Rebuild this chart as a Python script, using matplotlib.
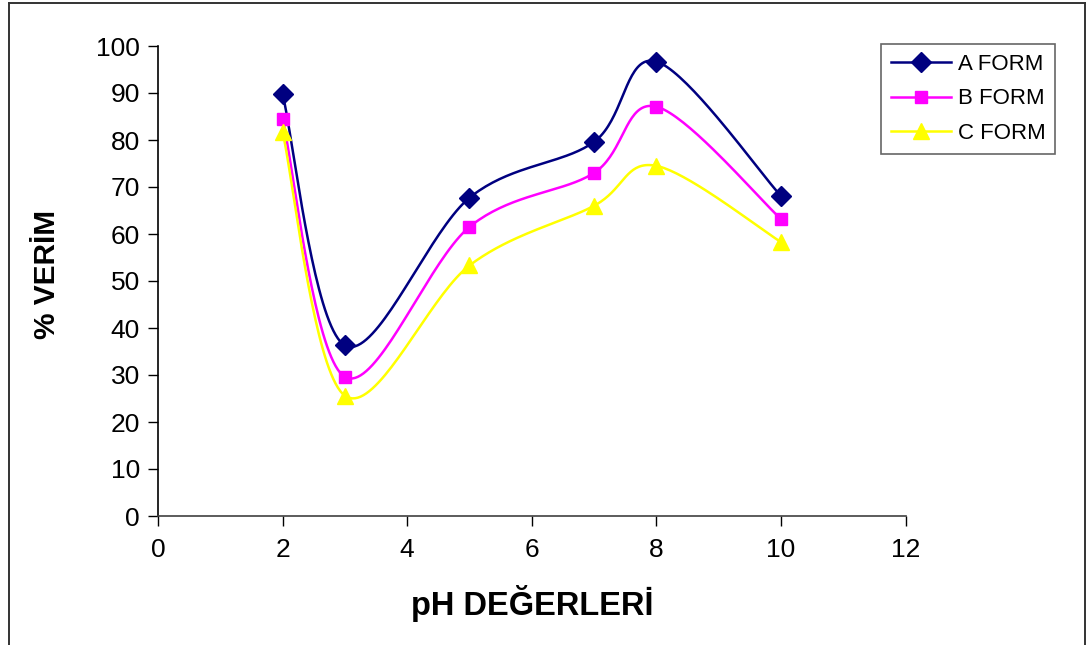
import numpy as np
import matplotlib.pyplot as plt
from matplotlib.lines import Line2D

plt.rcParams['font.family'] = ['Liberation Sans', 'DejaVu Sans']

# pH values and yields for each form
ph = [2, 3, 5, 7, 8, 10]
a_form = [89.8, 36.3, 67.7, 79.6, 96.7, 68.1]
b_form = [84.5, 29.6, 61.5, 73.0, 87.1, 63.2]
c_form = [81.7, 25.6, 53.3, 66.0, 74.5, 58.3]

series = [
    ("A FORM", a_form, "#000080", "D"),
    ("B FORM", b_form, "#FF00FF", "s"),
    ("C FORM", c_form, "#FFFF00", "^"),
]


def smooth_curve(x, y, n=40):
    # spreadsheet style smoothed line: cubic bezier, control points at 1/6 of neighbour span
    pts = np.column_stack([x, y]).astype(float)
    ext = np.vstack([pts[0], pts, pts[-1]])
    t = np.linspace(0, 1, n)[:, None]
    out = []
    for i in range(1, len(ext) - 2):
        p0, p3 = ext[i], ext[i + 1]
        c1 = p0 + (ext[i + 1] - ext[i - 1]) / 6
        c2 = p3 - (ext[i + 2] - ext[i]) / 6
        seg = ((1 - t) ** 3) * p0 + 3 * ((1 - t) ** 2) * t * c1 + 3 * (1 - t) * t ** 2 * c2 + t ** 3 * p3
        out.append(seg if i == 1 else seg[1:])
    out = np.vstack(out)
    return out[:, 0], out[:, 1]


fig = plt.figure(figsize=(10.88, 6.45), dpi=100)
ax = fig.add_axes([158 / 1088, 1 - 516 / 645, 747.5 / 1088, 470 / 645])

handles = []
for name, vals, color, mk in series:
    sx, sy = smooth_curve(ph, vals)
    ax.plot(sx, sy, color=color, lw=1.8, zorder=2)
    ms = 11 if mk == "^" else (10 if mk == "D" else 9)
    ax.plot(ph, vals, linestyle="none", marker=mk, color=color, markersize=ms, zorder=3)
    handles.append(Line2D([0], [0], color=color, lw=1.8, marker=mk, markersize=ms))

ax.set_xlim(0, 12)
ax.set_ylim(0, 100)
ax.set_xticks(range(0, 13, 2))
ax.set_yticks(range(0, 101, 10))
ax.tick_params(direction="out", length=7, width=1, colors="#000000", labelsize=19, pad=6)
ax.tick_params(axis="x", pad=9)
for side in ("top", "right"):
    ax.spines[side].set_visible(False)
ax.spines["left"].set_linewidth(1.2)
ax.spines["bottom"].set_linewidth(1.2)
ax.spines["bottom"].set_color("#404040")

fig.text(532 / 1088, 1 - 604 / 645, "pH DEĞERLERİ", ha="center", va="center",
         fontsize=23.5, fontweight="bold")
fig.text(47 / 1088, 1 - 274 / 645, "% VERİM", ha="center", va="center",
         fontsize=21.5, fontweight="bold", rotation=90)

leg = fig.legend(handles, [s[0] for s in series], loc="upper left",
                 bbox_to_anchor=(881 / 1088, 1 - 44 / 645), bbox_transform=fig.transFigure,
                 borderaxespad=0, fancybox=False, fontsize=16, handlelength=2.7,
                 labelspacing=0.6, borderpad=0.45, handletextpad=0.3)
leg.get_frame().set_edgecolor("#404040")
leg.get_frame().set_linewidth(1.2)

# outer frame around the chart area
fw, fh = 1088, 645
fig.add_artist(Line2D([8.5 / fw, 8.5 / fw], [0, 1 - 3 / fh], color="#333333", lw=1.4, transform=fig.transFigure))
fig.add_artist(Line2D([8.5 / fw, 1084.5 / fw], [1 - 3 / fh, 1 - 3 / fh], color="#333333", lw=1.4, transform=fig.transFigure))
fig.add_artist(Line2D([1084.5 / fw, 1084.5 / fw], [0, 1 - 3 / fh], color="#333333", lw=1.4, transform=fig.transFigure))

fig.savefig("out.png", dpi=100)
